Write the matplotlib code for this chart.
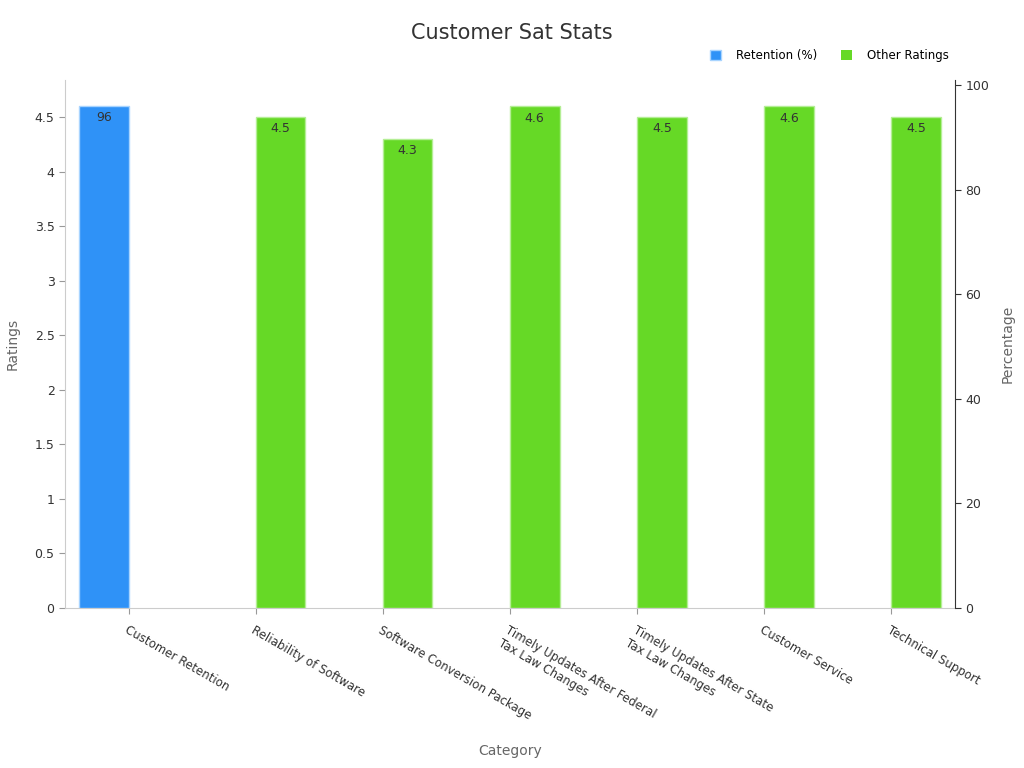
import matplotlib
matplotlib.use("Agg")
import matplotlib.pyplot as plt
import numpy as np

categories = ["Customer Retention", "Reliability of Software", "Software Conversion Package",
              "Timely Updates After Federal\nTax Law Changes", "Timely Updates After State\nTax Law Changes",
              "Customer Service", "Technical Support"]
retention = [96, 0, 0, 0, 0, 0, 0]
ratings = [0, 4.5, 4.3, 4.6, 4.5, 4.6, 4.5]

blue = "#2f92f7"
green = "#66d926"

fig = plt.figure(figsize=(10.24, 7.68), dpi=100)
ax = fig.add_axes([0.0635, 0.2083, 0.869, 0.6875])
ax2 = ax.twinx()

x = np.arange(len(categories))
w = 0.39
rb = ax2.bar(x - w / 2, retention, w, color=blue, linewidth=1, label="Retention (%)",
             edgecolor=["#a8d4ff" if v else "none" for v in retention])
gb = ax.bar(x + w / 2, ratings, w, color=green, linewidth=1, label="Other Ratings",
            edgecolor=["#b4ee95" if v else "none" for v in ratings])

for b, v in zip(rb, retention):
    if v:
        ax2.text(b.get_x() + b.get_width() / 2, v - 1, str(v), ha="center", va="top", fontsize=9, color="#333333")
for b, v in zip(gb, ratings):
    if v:
        ax.text(b.get_x() + b.get_width() / 2, v - 0.05, str(v), ha="center", va="top", fontsize=9, color="#333333")

ax.set_xlim(-0.5, len(categories) - 0.5)
ax.set_ylim(0, max(ratings) * 1.052)
ax2.set_ylim(0, max(retention) * 1.052)
ax.set_yticks(np.arange(0, 4.6, 0.5))
ax.set_yticklabels(["0", "0.5", "1", "1.5", "2", "2.5", "3", "3.5", "4", "4.5"])
ax2.set_yticks(np.arange(0, 101, 20))

ax.set_xticks(x)
ax.set_xticklabels(categories, rotation=-30, ha="left", rotation_mode="anchor", fontsize=8.5, color="#333333")
ax.tick_params(axis="x", length=4, color="#999999", pad=7)
ax.tick_params(axis="y", labelsize=9, labelcolor="#333333", length=4, color="#999999")
ax2.tick_params(axis="y", labelsize=9, labelcolor="#333333", length=4, color="#333333")

for s in ["top", "right"]:
    ax.spines[s].set_visible(False)
ax.spines["left"].set_color("#cccccc")
ax.spines["bottom"].set_color("#cccccc")
ax2.spines["top"].set_visible(False)
ax2.spines["left"].set_visible(False)
ax2.spines["bottom"].set_visible(False)
ax2.spines["right"].set_color("#333333")

ax.set_ylabel("Ratings", fontsize=10, color="#666666")
ax.yaxis.set_label_coords(-0.051, 0.5)
ax2.set_ylabel("Percentage", fontsize=10, color="#666666")
ax2.yaxis.set_label_coords(1.051, 0.5)
ax.set_xlabel("Category", fontsize=10, color="#666666")
ax.xaxis.set_label_coords(0.5, -0.257)

fig.suptitle("Customer Sat Stats", fontsize=15, color="#333333", y=0.97)
fig.legend(handles=[rb, gb], loc="upper right", bbox_to_anchor=(0.937, 0.95), ncol=2, frameon=False,
           fontsize=8.5, handlelength=0.9, handleheight=0.9, columnspacing=2.0, handletextpad=1.3)

fig.savefig("out.png", dpi=100)
